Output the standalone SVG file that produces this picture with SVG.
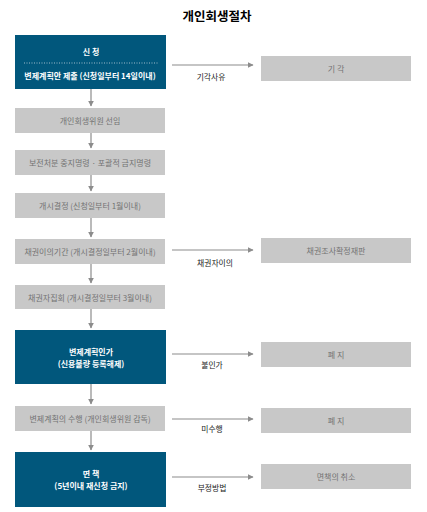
<svg xmlns="http://www.w3.org/2000/svg" width="427" height="512" viewBox="0 0 427 512">
<defs>
<style>
text{font-family:"Noto Sans CJK KR","Noto Sans",sans-serif;text-anchor:middle;dominant-baseline:central}
.dark{fill:#01577c}
.gray{fill:#c8c8c8}
.wt{fill:#fff;font-size:8px;font-weight:bold}
.gt{fill:#737373;font-size:8px}
.lb{fill:#222;font-size:7.8px}
.ln{stroke:#8c8c8c;stroke-width:1.2;fill:none}
</style>
<marker id="ah" viewBox="0 0 10 10" refX="9" refY="5" markerWidth="6" markerHeight="6" markerUnits="userSpaceOnUse" orient="auto"><path d="M0,0 L10,5 L0,10 z" fill="#8c8c8c"/></marker>
</defs>
<rect width="427" height="512" fill="#fff"/>
<text x="217" y="15" style="font-size:12.5px;font-weight:bold;fill:#000">개인회생절차</text>

<g id="n1"><rect class="dark" x="15" y="35" width="151" height="54"/><text class="wt" x="91" y="51">신 청</text><line x1="24" y1="63" x2="158" y2="63" stroke="#c9d6df" stroke-width="0.8" stroke-dasharray="1 1.5"/><text class="wt" x="90" y="75">변제계획안 제출 (신청일부터 14일이내)</text></g>
<g id="n2"><rect class="gray" x="15" y="108" width="150" height="25"/><text class="gt" x="90" y="120.5">개인회생위원 선임</text></g>
<g id="n3"><rect class="gray" x="15" y="150" width="150" height="25"/><text class="gt" x="90" y="162.5">보전처분 중지명령 · 포괄적 금지명령</text></g>
<g id="n4"><rect class="gray" x="15" y="193" width="150" height="25"/><text class="gt" x="90" y="205.5">개시결정 (신청일부터 1월이내)</text></g>
<g id="n5"><rect class="gray" x="15" y="239" width="150" height="25"/><text class="gt" x="90" y="251.5">채권이의기간 (개시결정일부터 2월이내)</text></g>
<g id="n6"><rect class="gray" x="15" y="285" width="150" height="24"/><text class="gt" x="90" y="297">채권자집회 (개시결정일부터 3월이내)</text></g>
<g id="n7"><rect class="dark" x="15" y="330" width="151" height="54"/><text class="wt" x="91" y="351">변제계획인가</text><text class="wt" x="91" y="363">(신용불량 등록해제)</text></g>
<g id="n8"><rect class="gray" x="15" y="406" width="150" height="25"/><text class="gt" x="90" y="418.5">변제계획의 수행 (개인회생위원 감독)</text></g>
<g id="n9"><rect class="dark" x="15" y="452" width="151" height="55"/><text class="wt" x="91" y="473">면 책</text><text class="wt" x="91" y="485">(5년이내 재신청 금지)</text></g>

<g id="r1"><rect class="gray" x="261" y="56" width="150" height="25"/><text class="gt" x="336" y="68.5">기 각</text></g>
<g id="r2"><rect class="gray" x="261" y="238" width="150" height="25"/><text class="gt" x="336" y="250.5">채권조사확정재판</text></g>
<g id="r3"><rect class="gray" x="261" y="342" width="150" height="25"/><text class="gt" x="336" y="354.5">폐 지</text></g>
<g id="r4"><rect class="gray" x="261" y="408" width="150" height="25"/><text class="gt" x="336" y="420.5">폐 지</text></g>
<g id="r5"><rect class="gray" x="261" y="464" width="150" height="25"/><text class="gt" x="336" y="476.5">면책의 취소</text></g>

<g id="connectors">
<line class="ln" x1="91" y1="89" x2="91" y2="106" marker-end="url(#ah)"/>
<line class="ln" x1="91" y1="133" x2="91" y2="148" marker-end="url(#ah)"/>
<line class="ln" x1="91" y1="175" x2="91" y2="191" marker-end="url(#ah)"/>
<line class="ln" x1="91" y1="218" x2="91" y2="237" marker-end="url(#ah)"/>
<line class="ln" x1="91" y1="264" x2="91" y2="283" marker-end="url(#ah)"/>
<line class="ln" x1="91" y1="309" x2="91" y2="328" marker-end="url(#ah)"/>
<line class="ln" x1="91" y1="384" x2="91" y2="404" marker-end="url(#ah)"/>
<line class="ln" x1="91" y1="431" x2="91" y2="450" marker-end="url(#ah)"/>
<line class="ln" x1="172" y1="65" x2="253" y2="65" marker-end="url(#ah)"/>
<line class="ln" x1="172" y1="250" x2="253" y2="250" marker-end="url(#ah)"/>
<line class="ln" x1="172" y1="354" x2="253" y2="354" marker-end="url(#ah)"/>
<line class="ln" x1="172" y1="419" x2="253" y2="419" marker-end="url(#ah)"/>
<line class="ln" x1="172" y1="477" x2="253" y2="477" marker-end="url(#ah)"/>
<text class="lb" x="211" y="76">기각사유</text>
<text class="lb" x="215" y="262">채권자이의</text>
<text class="lb" x="212" y="364">불인가</text>
<text class="lb" x="212" y="428">미수행</text>
<text class="lb" x="212" y="487">부정방법</text>
</g>
</svg>
